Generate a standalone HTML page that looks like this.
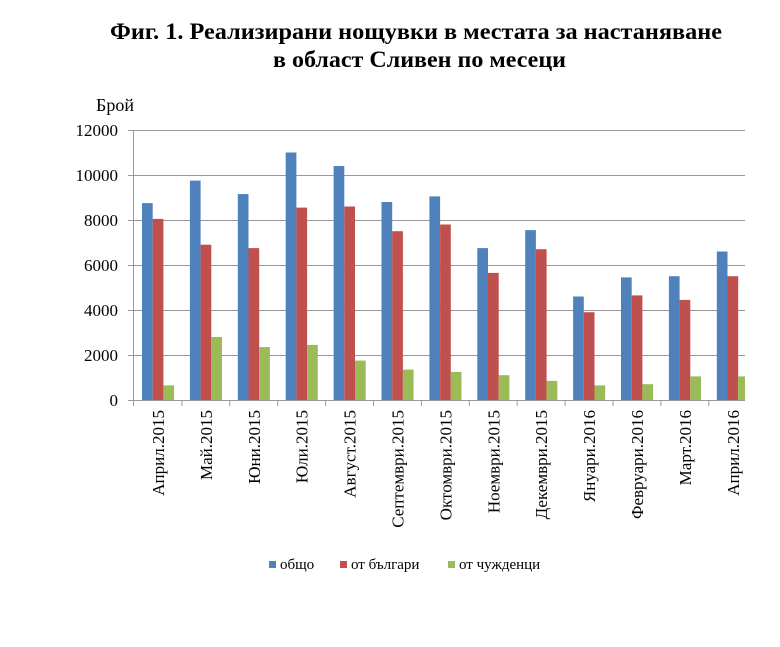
<!DOCTYPE html>
<html><head><meta charset="utf-8"><style>
body{margin:0;background:#fff}
svg{display:block;font-family:"Liberation Serif",serif}
</style></head><body>
<svg width="780" height="647" viewBox="0 0 780 647">
<text x="110" y="39" font-weight="bold" font-size="23" textLength="612" lengthAdjust="spacingAndGlyphs">Фиг. 1. Реализирани нощувки в местата за настаняване</text>
<text x="273" y="67" font-weight="bold" font-size="23" textLength="293" lengthAdjust="spacingAndGlyphs">в област Сливен по месеци</text>
<text x="96" y="111" font-size="18">Брой</text>
<g stroke="#999" stroke-width="1">
<line x1="128" y1="130.5" x2="745" y2="130.5"/>
<line x1="128" y1="175.5" x2="745" y2="175.5"/>
<line x1="128" y1="220.5" x2="745" y2="220.5"/>
<line x1="128" y1="265.5" x2="745" y2="265.5"/>
<line x1="128" y1="310.5" x2="745" y2="310.5"/>
<line x1="128" y1="355.5" x2="745" y2="355.5"/>
<line x1="133.5" y1="130" x2="133.5" y2="400"/>
<line x1="128" y1="400.5" x2="745" y2="400.5"/>
</g>
<g font-size="17" text-anchor="end">
<text x="118" y="136">12000</text><text x="118" y="181">10000</text><text x="118" y="226">8000</text>
<text x="118" y="271">6000</text><text x="118" y="316">4000</text><text x="118" y="361">2000</text><text x="118" y="406">0</text>
</g>
<g fill="#4F81BD">
<rect x="142" y="203.1" width="10.7" height="196.9"/>
<rect x="189.9" y="180.6" width="10.7" height="219.4"/>
<rect x="237.8" y="194.1" width="10.7" height="205.9"/>
<rect x="285.7" y="152.5" width="10.7" height="247.5"/>
<rect x="333.6" y="166" width="10.7" height="234"/>
<rect x="381.5" y="202" width="10.7" height="198"/>
<rect x="429.4" y="196.4" width="10.7" height="203.6"/>
<rect x="477.3" y="248.1" width="10.7" height="151.9"/>
<rect x="525.2" y="230.1" width="10.7" height="169.9"/>
<rect x="573.1" y="296.5" width="10.7" height="103.5"/>
<rect x="621" y="277.4" width="10.7" height="122.6"/>
<rect x="668.9" y="276.2" width="10.7" height="123.8"/>
<rect x="716.8" y="251.5" width="10.7" height="148.5"/>
</g>
<g fill="#C0504D">
<rect x="152.7" y="218.9" width="10.7" height="181.1"/>
<rect x="200.6" y="244.7" width="10.7" height="155.3"/>
<rect x="248.5" y="248.1" width="10.7" height="151.9"/>
<rect x="296.4" y="207.6" width="10.7" height="192.4"/>
<rect x="344.3" y="206.5" width="10.7" height="193.5"/>
<rect x="392.2" y="231.2" width="10.7" height="168.8"/>
<rect x="440.1" y="224.5" width="10.7" height="175.5"/>
<rect x="488" y="272.9" width="10.7" height="127.1"/>
<rect x="535.9" y="249.2" width="10.7" height="150.8"/>
<rect x="583.8" y="312.2" width="10.7" height="87.8"/>
<rect x="631.7" y="295.4" width="10.7" height="104.6"/>
<rect x="679.6" y="299.9" width="10.7" height="100.1"/>
<rect x="727.5" y="276.2" width="10.7" height="123.8"/>
</g>
<g fill="#9BBB59">
<rect x="163.4" y="385.4" width="10.7" height="14.6"/>
<rect x="211.3" y="337" width="10.7" height="63"/>
<rect x="259.2" y="347.1" width="10.7" height="52.9"/>
<rect x="307.1" y="344.9" width="10.7" height="55.1"/>
<rect x="355" y="360.6" width="10.7" height="39.4"/>
<rect x="402.9" y="369.6" width="10.7" height="30.4"/>
<rect x="450.8" y="371.9" width="10.7" height="28.1"/>
<rect x="498.7" y="375.2" width="10.7" height="24.8"/>
<rect x="546.6" y="380.9" width="10.7" height="19.1"/>
<rect x="594.5" y="385.4" width="10.7" height="14.6"/>
<rect x="642.4" y="384.2" width="10.7" height="15.8"/>
<rect x="690.3" y="376.4" width="10.7" height="23.6"/>
<rect x="738.2" y="376.4" width="6.8" height="23.6"/>
</g>
<g stroke="#999">
<line x1="133.5" y1="400" x2="133.5" y2="406"/>
<line x1="181.9" y1="400" x2="181.9" y2="406"/>
<line x1="229.8" y1="400" x2="229.8" y2="406"/>
<line x1="277.7" y1="400" x2="277.7" y2="406"/>
<line x1="325.6" y1="400" x2="325.6" y2="406"/>
<line x1="373.5" y1="400" x2="373.5" y2="406"/>
<line x1="421.4" y1="400" x2="421.4" y2="406"/>
<line x1="469.3" y1="400" x2="469.3" y2="406"/>
<line x1="517.2" y1="400" x2="517.2" y2="406"/>
<line x1="565.1" y1="400" x2="565.1" y2="406"/>
<line x1="613" y1="400" x2="613" y2="406"/>
<line x1="660.9" y1="400" x2="660.9" y2="406"/>
<line x1="708.8" y1="400" x2="708.8" y2="406"/>
</g>
<g font-size="17" text-anchor="end">
<text transform="translate(164,410) rotate(-90)">Април.2015</text>
<text transform="translate(211.9,410) rotate(-90)">Май.2015</text>
<text transform="translate(259.8,410) rotate(-90)">Юни.2015</text>
<text transform="translate(307.7,410) rotate(-90)">Юли.2015</text>
<text transform="translate(355.6,410) rotate(-90)">Август.2015</text>
<text transform="translate(403.5,410) rotate(-90)">Септември.2015</text>
<text transform="translate(451.4,410) rotate(-90)">Октомври.2015</text>
<text transform="translate(499.3,410) rotate(-90)">Ноември.2015</text>
<text transform="translate(547.2,410) rotate(-90)">Декември.2015</text>
<text transform="translate(595.1,410) rotate(-90)">Януари.2016</text>
<text transform="translate(643,410) rotate(-90)">Февруари.2016</text>
<text transform="translate(690.9,410) rotate(-90)">Март.2016</text>
<text transform="translate(738.8,410) rotate(-90)">Април.2016</text>
</g>
<rect x="269" y="561" width="7" height="7" fill="#4F81BD"/><text x="280" y="569" font-size="15">общо</text>
<rect x="340" y="561" width="7" height="7" fill="#C0504D"/><text x="351" y="569" font-size="15">от българи</text>
<rect x="448" y="561" width="7" height="7" fill="#9BBB59"/><text x="459" y="569" font-size="15">от чужденци</text>
</svg>
</body></html>
